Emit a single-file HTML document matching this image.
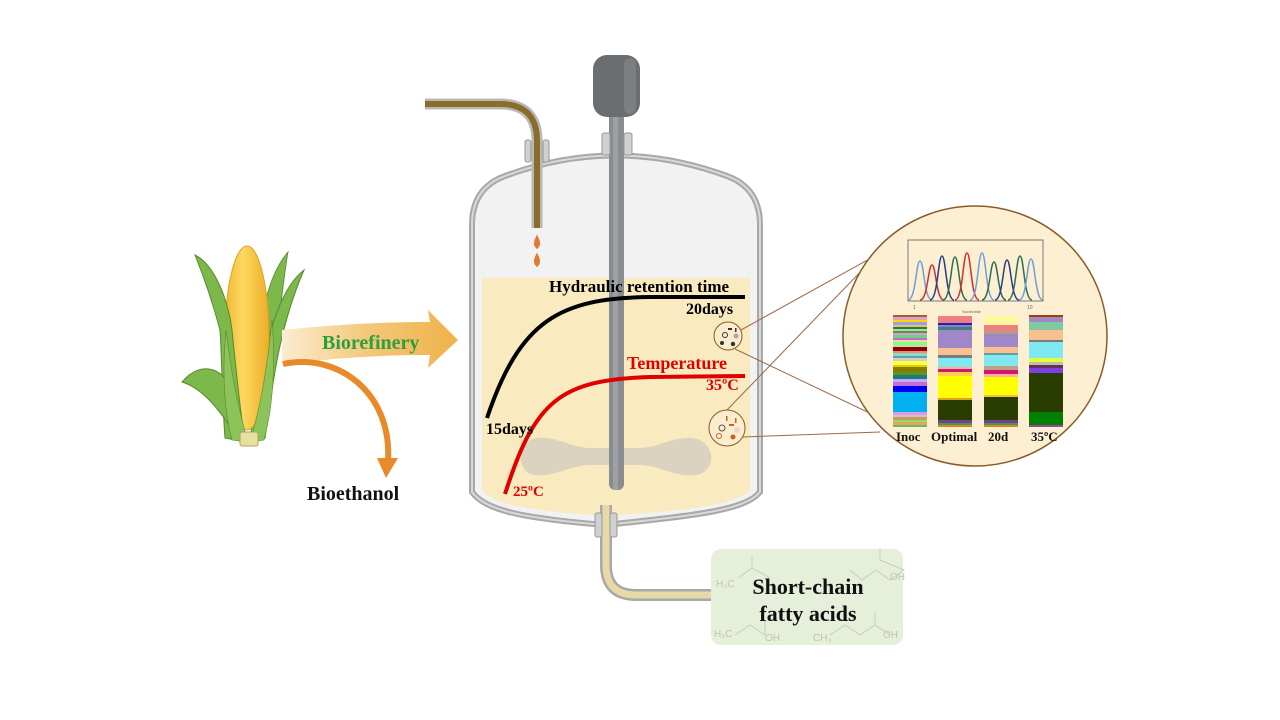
<!DOCTYPE html>
<html><head><meta charset="utf-8"><style>
html,body{margin:0;padding:0;background:#fff;}
svg{display:block;}
text{font-family:"Liberation Serif",serif;font-weight:bold;}
</style></head><body>
<svg width="1280" height="720" viewBox="0 0 1280 720" xmlns="http://www.w3.org/2000/svg">
<defs>
<linearGradient id="bg" x1="0" x2="1" y1="0" y2="0">
<stop offset="0" stop-color="#fbecd0"/><stop offset="0.5" stop-color="#f3c778"/><stop offset="1" stop-color="#efb24a"/>
</linearGradient>
<linearGradient id="cob" x1="0" x2="1" y1="0" y2="0">
<stop offset="0" stop-color="#f2b830"/><stop offset="0.4" stop-color="#fcd860"/><stop offset="1" stop-color="#eeae28"/>
</linearGradient>
</defs>

<!-- corn -->
<g>
<path d="M288,252 C268,275 258,320 258,370 L275,345 C282,300 284,275 288,252Z" fill="#7cb84a" stroke="#5a8a30" stroke-width="0.8"/>
<path d="M304,270 C278,290 268,340 258,380 L250,440 L265,438 C272,390 278,330 304,270Z" fill="#7cb84a" stroke="#5a8a30" stroke-width="1"/>
<ellipse cx="247" cy="338" rx="22" ry="92" fill="url(#cob)" stroke="#e0a020" stroke-width="1"/>
<path d="M195,255 C215,265 228,300 232,330 C236,370 240,410 245,442 L225,438 C222,400 222,360 220,330 C212,300 203,275 195,255Z" fill="#7cb84a" stroke="#5a8a30" stroke-width="1"/>
<path d="M182,382 C202,358 228,368 235,400 L240,440 C225,420 208,390 182,382Z" fill="#7cb84a" stroke="#5a8a30" stroke-width="1"/>
<path d="M226,330 C232,380 240,415 248,442 L232,440 C224,410 222,370 226,330Z" fill="#8cc45a" stroke="#5a8a30" stroke-width="0.6"/>
<path d="M272,320 C266,380 258,415 250,442 L264,440 C272,410 276,370 272,320Z" fill="#8cc45a" stroke="#5a8a30" stroke-width="0.6"/>
<rect x="240" y="432" width="18" height="14" rx="2" fill="#e8e0a0" stroke="#b0a060"/>
</g>

<path d="M282,330 C330,325 380,322 430,322 L428,310 L458,340 L428,368 L430,355 C380,355 330,358 282,365 Z" fill="url(#bg)"/>
<text x="322" y="349" font-size="20" fill="#2e9e3e">Biorefinery</text>
<path d="M283,364 C340,352 392,395 388,460" fill="none" stroke="#e88a2a" stroke-width="6"/>
<path d="M377,458 L398,458 L386,478 Z" fill="#e88a2a"/>
<text x="307" y="500" font-size="20" fill="#111">Bioethanol</text>

<path d="M472,225 Q472,188 505,176 Q615,135 727,176 Q760,188 760,225 L760,492 C745,510 700,515 605,525 C520,518 485,510 472,492 Z" fill="#f2f2f2" stroke="#a8a8a8" stroke-width="6"/>
<path d="M482,278 L750,278 L750,490 C735,505 695,510 605,516 C520,510 492,503 482,490 Z" fill="#f9ebbf"/>
<path d="M472,225 Q472,188 505,176 Q615,135 727,176 Q760,188 760,225 L760,492 C745,510 700,515 605,525 C520,518 485,510 472,492 Z" fill="none" stroke="#d8d8d8" stroke-width="2"/>
<path d="M530,440 C550,432 570,448 590,448 L640,448 C660,448 680,432 700,440 C715,448 715,468 700,474 C680,480 660,465 640,465 L590,465 C570,465 550,480 530,474 C518,468 518,448 530,440Z" fill="#d9d3c0"/>
<rect x="609" y="100" width="15" height="390" rx="6" fill="#8a8d90"/>
<rect x="613" y="100" width="5" height="390" fill="#9ea1a4"/>
<rect x="602" y="133" width="8" height="22" rx="2" fill="#d0d0d0" stroke="#999"/>
<rect x="624" y="133" width="8" height="22" rx="2" fill="#d0d0d0" stroke="#999"/>
<rect x="593" y="55" width="47" height="62" rx="14" fill="#6b6e70"/>
<rect x="624" y="58" width="12" height="56" rx="6" fill="#7c7f82"/>
<path d="M425,104 L500,104 Q537,104 537,141 L537,228" fill="none" stroke="#b8b8b8" stroke-width="11"/>
<path d="M425,104 L500,104 Q537,104 537,141 L537,228" fill="none" stroke="#8a6d2a" stroke-width="6"/>
<rect x="525" y="140" width="6" height="22" rx="2" fill="#d0d0d0" stroke="#999"/>
<rect x="543" y="140" width="6" height="22" rx="2" fill="#d0d0d0" stroke="#999"/>
<path d="M537,238 Q534,244 537,247 Q540,244 537,238Z" fill="#e07a30" stroke="#e07a30" stroke-width="3"/>
<path d="M537,256 Q534,262 537,265 Q540,262 537,256Z" fill="#e07a30" stroke="#e07a30" stroke-width="3"/>
<path d="M606,505 L606,565 Q606,595 636,595 L735,595" fill="none" stroke="#a8a8a8" stroke-width="12"/>
<path d="M606,505 L606,565 Q606,595 636,595 L735,595" fill="none" stroke="#e8d9a8" stroke-width="7"/>
<rect x="595" y="513" width="7" height="24" rx="2" fill="#d0d0d0" stroke="#999"/>
<rect x="610" y="513" width="7" height="24" rx="2" fill="#d0d0d0" stroke="#999"/>

<path d="M487,418 C520,320 560,298 650,297 L745,297" fill="none" stroke="#000" stroke-width="4"/>
<path d="M505,494 C535,400 560,380 650,377 L745,376" fill="none" stroke="#e00000" stroke-width="4"/>
<text x="549" y="292" font-size="17" fill="#000">Hydraulic retention time</text>
<text x="686" y="314" font-size="16" fill="#000">20days</text>
<text x="486" y="434" font-size="16" fill="#000">15days</text>
<text x="627" y="369" font-size="18" fill="#e00000">Temperature</text>
<text x="706" y="390" font-size="16" fill="#e00000">35ºC</text>
<text x="513" y="496" font-size="15" fill="#e00000">25ºC</text>

<circle cx="728" cy="336" r="14" fill="#fbeccb" stroke="#8b5a2b" stroke-width="1"/>
<g fill="#333"><circle cx="722" cy="343" r="2"/><circle cx="733" cy="344" r="2.2"/><circle cx="736" cy="336" r="2.5" fill="#aaa"/><circle cx="725" cy="335" r="2.5" fill="none" stroke="#333"/><rect x="728" y="328" width="4" height="2"/><rect x="735" y="328" width="1.5" height="4"/></g>
<circle cx="727" cy="428" r="18" fill="#fbeccb" stroke="#8b5a2b" stroke-width="1"/>
<g fill="#c8602a"><circle cx="733" cy="437" r="2.5"/><circle cx="737" cy="430" r="3" fill="#f3d0d0"/><circle cx="719" cy="436" r="2.5" fill="none" stroke="#c8602a"/><circle cx="722" cy="428" r="3" fill="none" stroke="#555"/><rect x="729" y="424" width="5" height="2"/><rect x="726" y="416" width="1.5" height="5"/><rect x="735" y="418" width="1.5" height="5"/></g>
<g stroke="#9a6a4a" stroke-width="1">
<line x1="741" y1="330" x2="882" y2="252"/>
<line x1="735" y1="349" x2="880" y2="418"/>
<line x1="727" y1="410" x2="870" y2="262"/>
<line x1="743" y1="437" x2="880" y2="432"/>
</g>

<ellipse cx="975" cy="336" rx="132" ry="130" fill="#fdf0d2" stroke="#8b5a2b" stroke-width="1.5"/>
<rect x="908" y="240" width="135" height="61" fill="none" stroke="#777" stroke-width="1"/>
<g fill="none" stroke-width="1.5">
<path d="M908,300 C916,300 916,261 920,261 C924,261 924,300 932,300" stroke="#6f9fd8"/>
<path d="M920,300 C928,300 928,265 932,265 C936,265 936,300 944,300" stroke="#d03030"/>
<path d="M930,300 C938,300 938,256 942,256 C946,256 946,300 954,300" stroke="#283c8c"/>
<path d="M943,300 C951,300 951,257 955,257 C959,257 959,300 967,300" stroke="#2a7050"/>
<path d="M955,300 C963,300 963,253 967,253 C971,253 971,300 979,300" stroke="#d03030"/>
<path d="M970,300 C978,300 978,253 982,253 C986,253 986,300 994,300" stroke="#6f9fd8"/>
<path d="M982,300 C990,300 990,262 994,262 C998,262 998,300 1006,300" stroke="#2a7050"/>
<path d="M995,300 C1003,300 1003,260 1007,260 C1011,260 1011,300 1019,300" stroke="#283c8c"/>
<path d="M1008,300 C1016,300 1016,256 1020,256 C1024,256 1024,300 1032,300" stroke="#2a7050"/>
<path d="M1019,300 C1027,300 1027,259 1031,259 C1035,259 1035,300 1043,300" stroke="#6f9fd8"/>
</g>
<text x="913" y="309" font-size="5" fill="#666" style="font-family:'Liberation Sans',sans-serif;font-weight:normal">1</text>
<text x="1027" y="309" font-size="5" fill="#666" style="font-family:'Liberation Sans',sans-serif;font-weight:normal">10</text>
<text x="962" y="313" font-size="4" fill="#666" style="font-family:'Liberation Sans',sans-serif;font-weight:normal">Nucleotide</text>

<g>
<rect x="893" y="315" width="34" height="2" fill="#a06040"/><rect x="893" y="317" width="34" height="3" fill="#e0a0c0"/><rect x="893" y="320" width="34" height="2" fill="#ffd700"/><rect x="893" y="322" width="34" height="3" fill="#a0a0e0"/><rect x="893" y="325" width="34" height="2" fill="#e0c080"/><rect x="893" y="327" width="34" height="2" fill="#2e7d32"/><rect x="893" y="329" width="34" height="2" fill="#a0e0a0"/><rect x="893" y="331" width="34" height="2" fill="#6a8a50"/><rect x="893" y="333" width="34" height="2" fill="#d0a0d0"/><rect x="893" y="335" width="34" height="3" fill="#6ad08a"/><rect x="893" y="338" width="34" height="2" fill="#c070c0"/><rect x="893" y="340" width="34" height="2" fill="#ffd0a0"/><rect x="893" y="342" width="34" height="3" fill="#80ff90"/><rect x="893" y="345" width="34" height="2" fill="#c0e0a0"/><rect x="893" y="347" width="34" height="4" fill="#8b0000"/><rect x="893" y="351" width="34" height="2" fill="#ff8080"/><rect x="893" y="353" width="34" height="3" fill="#80e0c0"/><rect x="893" y="356" width="34" height="2" fill="#60a0a0"/><rect x="893" y="358" width="34" height="3" fill="#d0d0d0"/><rect x="893" y="361" width="34" height="4" fill="#ffff40"/><rect x="893" y="365" width="34" height="2" fill="#e0d000"/><rect x="893" y="367" width="34" height="5" fill="#808000"/><rect x="893" y="372" width="34" height="3" fill="#6b8e23"/><rect x="893" y="375" width="34" height="4" fill="#108080"/><rect x="893" y="379" width="34" height="3" fill="#d0a0ff"/><rect x="893" y="382" width="34" height="4" fill="#c070d0"/><rect x="893" y="386" width="34" height="6" fill="#0000ee"/><rect x="893" y="392" width="34" height="20" fill="#00b0f0"/><rect x="893" y="412" width="34" height="3" fill="#d0a0e0"/><rect x="893" y="415" width="34" height="2" fill="#f0b0d0"/><rect x="893" y="417" width="34" height="3" fill="#c0a060"/><rect x="893" y="420" width="34" height="2" fill="#90e060"/><rect x="893" y="422" width="34" height="3" fill="#f0a060"/><rect x="893" y="425" width="34" height="2" fill="#60c060"/>
</g>
<g>
<rect x="938" y="316" width="34" height="7" fill="#f08080"/><rect x="938" y="323" width="34" height="2" fill="#2020c0"/><rect x="938" y="325" width="34" height="2" fill="#9080c0"/><rect x="938" y="327" width="34" height="3" fill="#408080"/><rect x="938" y="330" width="34" height="18" fill="#a088c8"/><rect x="938" y="348" width="34" height="7" fill="#f8c090"/><rect x="938" y="355" width="34" height="3" fill="#708080"/><rect x="938" y="358" width="34" height="9" fill="#80e8f0"/><rect x="938" y="367" width="34" height="2" fill="#ffb090"/><rect x="938" y="369" width="34" height="3" fill="#d01870"/><rect x="938" y="372" width="34" height="4" fill="#f8d050"/><rect x="938" y="376" width="34" height="22" fill="#ffff00"/><rect x="938" y="398" width="34" height="2" fill="#e0a020"/><rect x="938" y="400" width="34" height="20" fill="#2a3d00"/><rect x="938" y="420" width="34" height="3" fill="#7040a0"/><rect x="938" y="423" width="34" height="2" fill="#40a040"/><rect x="938" y="425" width="34" height="2" fill="#e08020"/>
</g>
<g>
<rect x="984" y="316" width="34" height="9" fill="#fff8a0"/><rect x="984" y="325" width="34" height="6" fill="#f08080"/><rect x="984" y="331" width="34" height="3" fill="#b0a080"/><rect x="984" y="334" width="34" height="13" fill="#a088c8"/><rect x="984" y="347" width="34" height="6" fill="#f8c090"/><rect x="984" y="353" width="34" height="2" fill="#60a0a0"/><rect x="984" y="355" width="34" height="11" fill="#80e8f0"/><rect x="984" y="366" width="34" height="4" fill="#c0a080"/><rect x="984" y="370" width="34" height="4" fill="#d01870"/><rect x="984" y="374" width="34" height="3" fill="#ffb0a0"/><rect x="984" y="377" width="34" height="18" fill="#ffff00"/><rect x="984" y="395" width="34" height="2" fill="#f0c040"/><rect x="984" y="397" width="34" height="23" fill="#2a3d00"/><rect x="984" y="420" width="34" height="3" fill="#7040a0"/><rect x="984" y="423" width="34" height="2" fill="#40a040"/><rect x="984" y="425" width="34" height="2" fill="#e08020"/>
</g>
<g>
<rect x="1029" y="315" width="34" height="2" fill="#a04000"/><rect x="1029" y="317" width="34" height="5" fill="#a088c8"/><rect x="1029" y="322" width="34" height="8" fill="#80c8a0"/><rect x="1029" y="330" width="34" height="10" fill="#f8c090"/><rect x="1029" y="340" width="34" height="2" fill="#708080"/><rect x="1029" y="342" width="34" height="16" fill="#80e8f0"/><rect x="1029" y="358" width="34" height="4" fill="#e0ff40"/><rect x="1029" y="362" width="34" height="3" fill="#c0c0a0"/><rect x="1029" y="365" width="34" height="3" fill="#603060"/><rect x="1029" y="368" width="34" height="5" fill="#8040e0"/><rect x="1029" y="373" width="34" height="39" fill="#2a3d00"/><rect x="1029" y="412" width="34" height="13" fill="#008000"/><rect x="1029" y="425" width="34" height="2" fill="#a040a0"/>
</g>
<text x="896" y="441" font-size="13" fill="#111">Inoc</text>
<text x="931" y="441" font-size="13" fill="#111">Optimal</text>
<text x="988" y="441" font-size="13" fill="#111">20d</text>
<text x="1031" y="441" font-size="13" fill="#111">35ºC</text>

<rect x="711" y="549" width="192" height="96" rx="10" fill="#e6efd9"/>
<g fill="none" stroke="#c8ccc0" stroke-width="1">
<path d="M738,578 L752,568 L752,555 M752,568 L770,578"/>
<path d="M850,570 L862,580 L876,570 L890,580 L904,570 L880,560 L880,548"/>
<path d="M735,635 L750,625 L765,635 L765,620"/>
<path d="M830,635 L845,625 L860,635 L875,625 L890,635 M875,625 L875,612"/>
</g>
<g fill="#c0c4b8" font-size="10">
<text x="716" y="587" style="font-family:'Liberation Sans',sans-serif;font-weight:normal">H₃C</text><text x="890" y="580" style="font-family:'Liberation Sans',sans-serif;font-weight:normal">OH</text>
<text x="714" y="637" style="font-family:'Liberation Sans',sans-serif;font-weight:normal">H₃C</text><text x="765" y="641" style="font-family:'Liberation Sans',sans-serif;font-weight:normal">OH</text>
<text x="813" y="641" style="font-family:'Liberation Sans',sans-serif;font-weight:normal">CH₃</text><text x="883" y="638" style="font-family:'Liberation Sans',sans-serif;font-weight:normal">OH</text>
</g>
<text x="808" y="594" font-size="22" fill="#111" text-anchor="middle">Short-chain</text>
<text x="808" y="621" font-size="22" fill="#111" text-anchor="middle">fatty acids</text>
</svg>
</body></html>
